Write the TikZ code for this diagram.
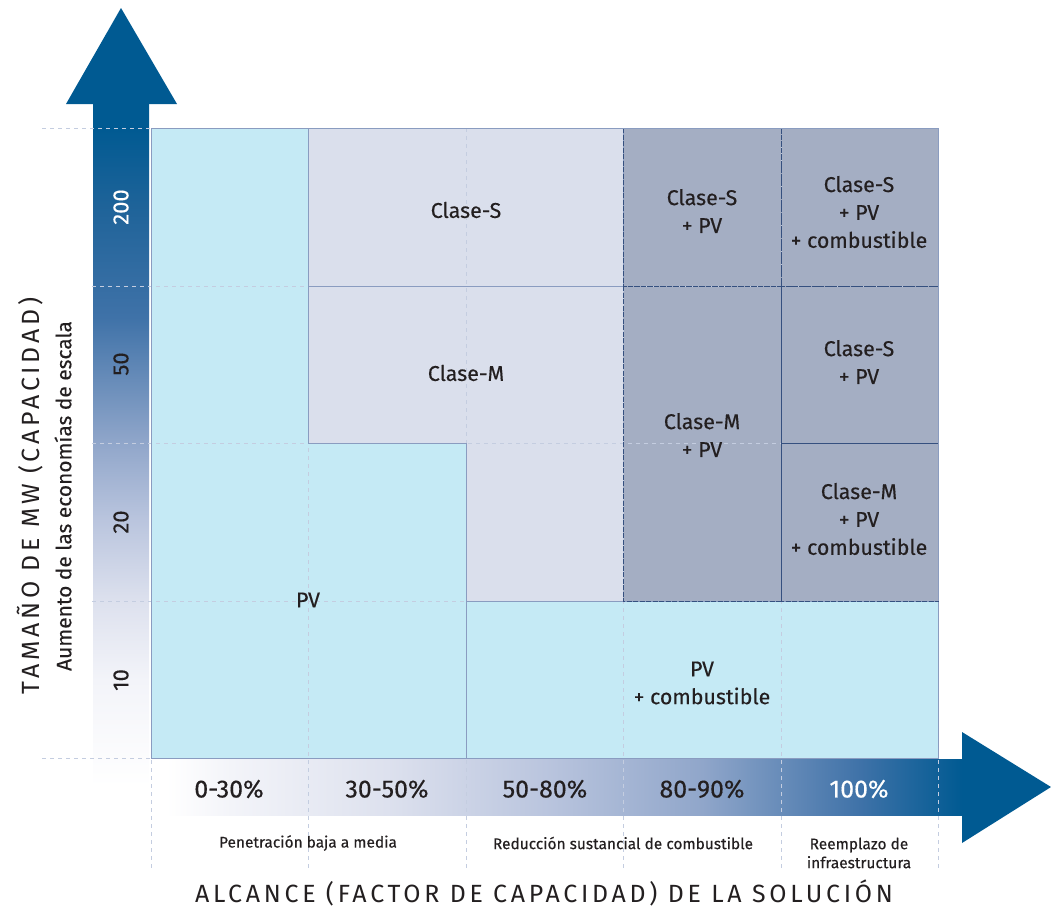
\documentclass[tikz,border=0pt]{standalone}
\usepackage{fontspec}
\setmainfont{Fira Sans}
\IfFontExistsTF{Fira Sans Book}
    {\newfontfamily\labelfont{Fira Sans Book}}
    {\newfontfamily\labelfont{Fira Sans}[FakeBold=0.3]}
\usetikzlibrary{positioning}
\definecolor{AxisBlue}{HTML}{005A92}
\definecolor{PVCyan}{HTML}{C5EAF5}
\definecolor{ClaseLight}{HTML}{DADFEC}
\definecolor{ClaseDark}{HTML}{A4AEC3}
\definecolor{GridLine}{HTML}{C4CDE0}
\definecolor{CellLine}{HTML}{8A9CC0}
\definecolor{NavyDash}{HTML}{35507F}
\definecolor{Ink}{HTML}{231F20}
\definecolor{FadeA}{HTML}{F3F4F9}
\definecolor{FadeB}{HTML}{DDE1EE}
\definecolor{FadeC}{HTML}{BAC5DE}
\definecolor{FadeD}{HTML}{90A6CA}
\definecolor{FadeE}{HTML}{3F72A8}
\definecolor{FadeF}{HTML}{1E6399}
\pgfdeclarehorizontalshading{xfade}{100bp}{color(0bp)=(white); color(26bp)=(white);
    color(30bp)=(FadeA); color(39.6bp)=(FadeB); color(49.3bp)=(FadeC);
    color(59bp)=(FadeD); color(68.7bp)=(FadeE); color(75bp)=(AxisBlue); color(100bp)=(AxisBlue)}
\pgfdeclareverticalshading{yfade}{100bp}{color(0bp)=(white); color(27bp)=(white);
    color(34.5bp)=(FadeA); color(40bp)=(FadeB); color(45.7bp)=(FadeC);
    color(51.2bp)=(FadeD); color(60bp)=(FadeE); color(67.9bp)=(FadeF);
    color(73.3bp)=(AxisBlue); color(100bp)=(AxisBlue)}

\begin{document}
\begin{tikzpicture}[x=1bp, y=-1bp,
    celltext/.style={font=\labelfont\fontsize{21.5}{28}\selectfont, text=Ink, align=center},
    ticktext/.style={font=\labelfont\fontsize{25}{28}\selectfont, text=Ink},
    sizetext/.style={font=\labelfont\fontsize{22}{26}\selectfont, text=Ink, rotate=90},
    smalltext/.style={font=\labelfont\fontsize{15.5}{19}\selectfont, text=Ink, align=center},
    titletext/.style={font=\fontsize{25}{29}\selectfont\addfontfeature{LetterSpace=15}, text=Ink},
    gridline/.style={GridLine, line width=1bp, dash pattern=on 4bp off 4bp},
    darkcell/.style={NavyDash, line width=1bp, dash pattern=on 5bp off 1.5bp}]
    \useasboundingbox (0,0) rectangle (1051,913);

    % axes
    \shade[shading=yfade] (93,104) rectangle (149,815);
    \fill[AxisBlue] (66,104) -- (121,8) -- (177,104) -- cycle;
    \shade[shading=xfade] (150,759) rectangle (962,815);
    \fill[AxisBlue] (962,732) -- (1051,787) -- (962,843) -- cycle;

    % regions
    \fill[PVCyan] (151,128) -- (308,128) -- (308,443) -- (466,443) -- (466,758) -- (151,758) -- cycle;
    \fill[PVCyan] (466,601) rectangle (938,758);
    \fill[ClaseLight] (308,128) rectangle (623,286);
    \fill[ClaseLight] (308,286) -- (623,286) -- (623,601) -- (466,601) -- (466,443) -- (308,443) -- cycle;
    \fill[ClaseDark] (623,128) rectangle (938,601);

    % grid
    \foreach \gx in {151,308,466,623,781,938}
        \draw[gridline] (\gx,128) -- (\gx,868);
    \foreach \gy in {286,443,601}
        \draw[gridline] (92,\gy) -- (938,\gy);
    \foreach \gy in {128,758}
        \draw[gridline] (42,\gy) -- (938,\gy);

    % borders
    \draw[CellLine, line width=1bp] (151,128) -- (308,128) -- (308,443) -- (466,443) -- (466,758) -- (151,758) -- cycle;
    \draw[CellLine, line width=1bp] (466,601) rectangle (938,758);
    \draw[CellLine, line width=1bp] (308,128) rectangle (623,286);
    \draw[darkcell] (623,128) rectangle (781,286);
    \draw[darkcell] (781,128) rectangle (938,286);
    \draw[darkcell] (623,286) rectangle (781,601);
    \draw[darkcell] (781,286) rectangle (938,443);
    \draw[darkcell] (781,443) rectangle (938,601);
    \draw[CellLine, line width=1bp] (623,128) -- (938,128) -- (938,601);

    % cell labels
    \node[celltext] (claseS) at (466,210) {Clase-S};
    \node[celltext] (claseM) at (466,373) {Clase-M};
    \node[celltext] (pv) at (308,600) {PV};
    \node[celltext] (pvcomb) at (702,683) {PV\\+ combustible};
    \node[celltext] (claseSpv) at (702,211) {Clase-S\\+ PV};
    \node[celltext] (claseSpvcomb) at (859,212) {Clase-S\\+ PV\\+ combustible};
    \node[celltext] (claseMpv) at (702,435) {Clase-M\\+ PV};
    \node[celltext] (claseSpvlow) at (859,362) {Clase-S\\+ PV};
    \node[celltext] (claseMpvcomb) at (859,519) {Clase-M\\+ PV\\+ combustible};

    % size ticks
    \node[sizetext, text=white] (size200) at (121,207) {200};
    \node[sizetext] (size50) at (121,364) {50};
    \node[sizetext] (size20) at (121,522) {20};
    \node[sizetext] (size10) at (121,680) {10};

    % range ticks
    \node[ticktext] (range0) at (229,789) {0-30\%};
    \node[ticktext] (range30) at (387,789) {30-50\%};
    \node[ticktext] (range50) at (545,789) {50-80\%};
    \node[ticktext] (range80) at (702,789) {80-90\%};
    \node[ticktext, text=white] (range100) at (859,789) {100\%};

    % groups
    \node[smalltext] (penetracion) at (308,843) {Penetración baja a media};
    \node[smalltext] (reduccion) at (623,843) {Reducción sustancial de combustible};
    \node[smalltext] (reemplazo) at (859,853) {Reemplazo de\\infraestructura};

    % titles
    \node[titletext] (xtitle) at (544,893) {ALCANCE (FACTOR DE CAPACIDAD) DE LA SOLUCIÓN};
    \node[titletext, rotate=90] (ytitle) at (30,496) {TAMAÑO DE MW (CAPACIDAD)};
    \node[font=\labelfont\fontsize{21}{24}\selectfont, text=Ink, rotate=90] (ysub) at (63,496) {Aumento de las economías de escala};
\end{tikzpicture}
\end{document}
